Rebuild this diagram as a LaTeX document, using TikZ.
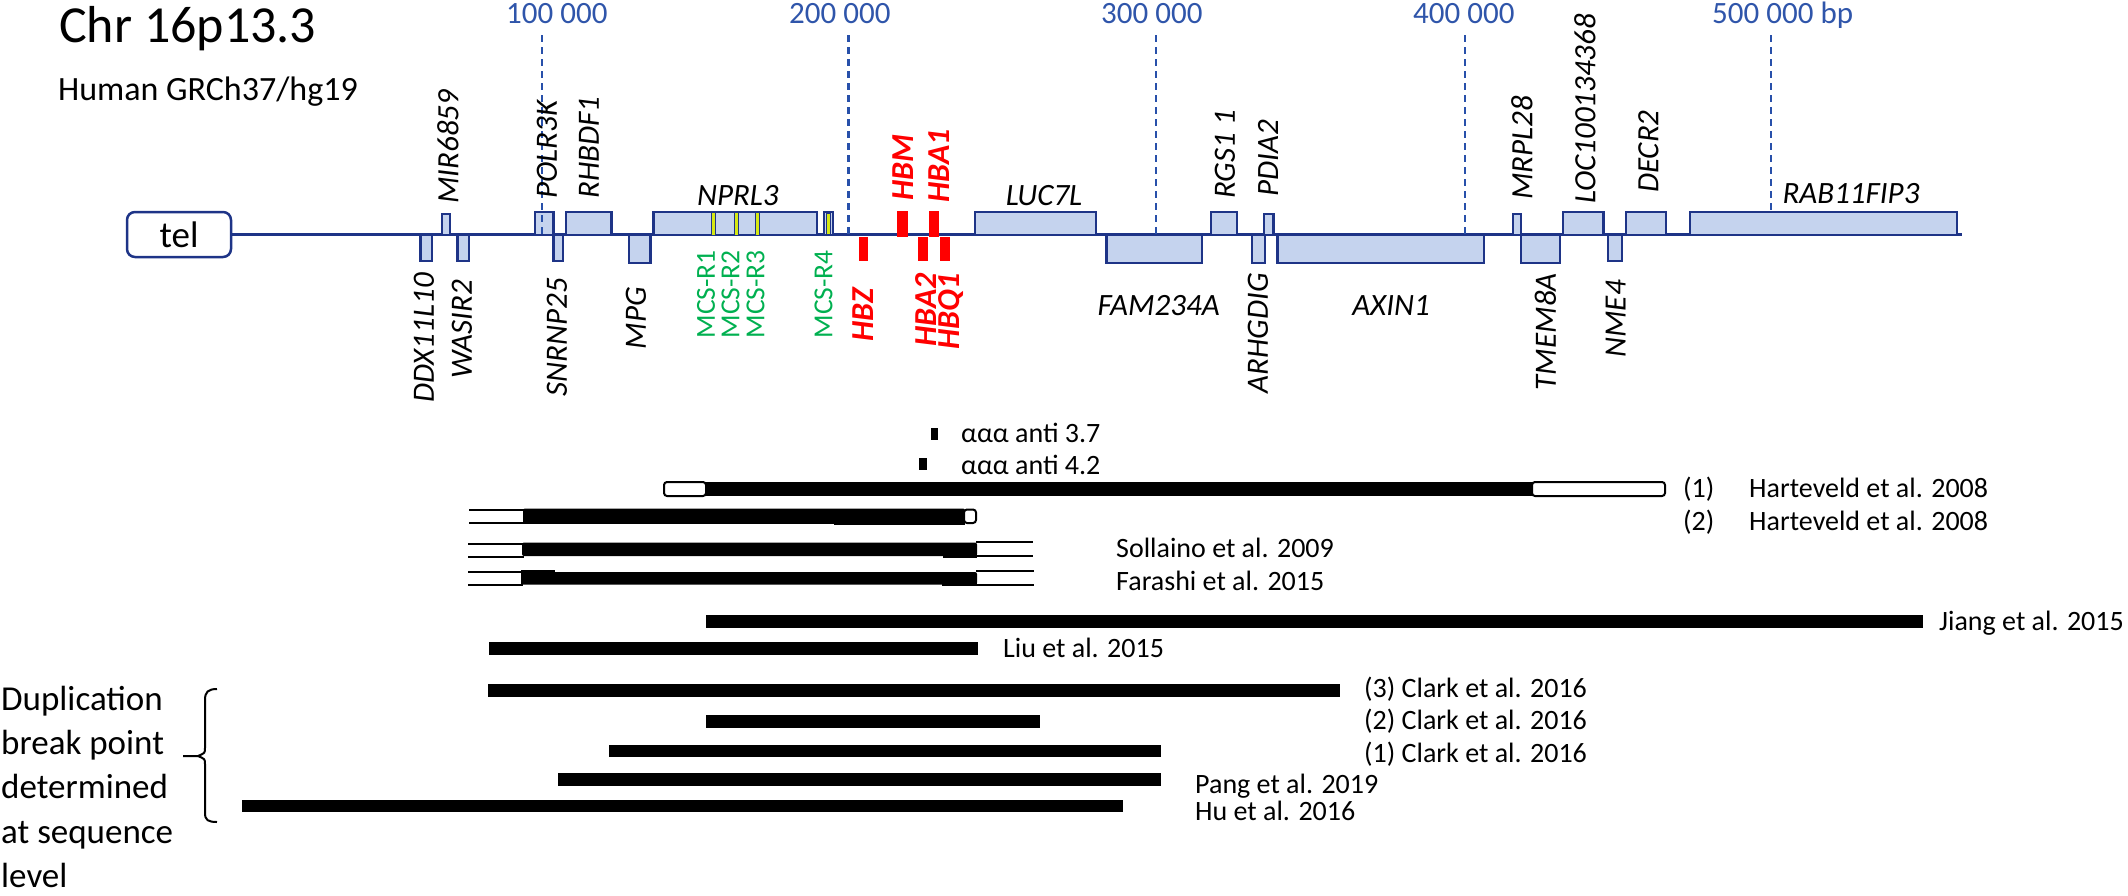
\documentclass[tikz,border=0pt]{standalone}
\usepackage{fontspec}
\setmainfont{Carlito}
\newcommand{\fsz}[1]{\fontsize{#1}{#1}\selectfont}
\definecolor{navy}{RGB}{30,52,135}
\definecolor{boxfill}{RGB}{197,211,238}
\definecolor{tickblue}{RGB}{40,80,170}
\definecolor{lblblue}{RGB}{47,85,170}
\definecolor{mcsgreen}{RGB}{0,176,80}
\definecolor{mcsyellow}{RGB}{214,232,20}
\definecolor{hbred}{RGB}{255,0,0}
\tikzset{
  genebox/.style={draw=navy, fill=boxfill, line width=2.4pt},
  yelbar/.style={draw=navy, fill=mcsyellow, line width=1pt},
  redbar/.style={fill=hbred, draw=none},
  tickline/.style={draw=tickblue, line width=2.5pt, dash pattern=on 7pt off 5pt},
  ticklbl/.style={font=\fsz{31}, text=lblblue, inner sep=0pt, anchor=base west},
  gl/.style={font=\fsz{31}\itshape, inner sep=0pt},
  ga/.style={gl, rotate=90, anchor=west},
  gb/.style={gl, rotate=90, anchor=east},
  gh/.style={gl, anchor=base},
  ra/.style={font=\fsz{32}\bfseries\itshape, text=hbred, inner sep=0pt, rotate=90, anchor=west},
  rb/.style={font=\fsz{32}\bfseries\itshape, text=hbred, inner sep=0pt, rotate=90, anchor=east},
  mcs/.style={font=\fsz{27.5}, text=mcsgreen, inner sep=0pt, rotate=90, anchor=east},
  blackbar/.style={fill=black, draw=none},
  openbox/.style={draw=black, fill=white, line width=2pt, rounded corners=3pt},
  openline/.style={draw=black, line width=2pt},
  reflbl/.style={font=\fsz{28}, inner sep=0pt, anchor=base west},
  sidelbl/.style={font=\fsz{35}, inner sep=0pt, anchor=base west}
}
\begin{document}
\begin{tikzpicture}[x=1pt, y=-1pt]
\useasboundingbox (0,0) rectangle (2128,895);
% titles
\node[font=\fsz{52}, inner sep=0pt, anchor=base west] (title) at (59,42) {Chr 16p13.3};
\node[font=\fsz{34}, inner sep=0pt, anchor=base west] (build) at (58,100) {Human GRCh37/hg19};
% tel box and main line
\node[draw=navy, line width=2.5pt, rounded corners=8pt, minimum width=104pt, minimum height=45pt, font=\fsz{37}, inner sep=0pt] (tel) at (179,234.5) {tel};
\coordinate (lineend) at (1962,234.5);
\draw[navy, line width=3pt] (tel.east) -- (lineend);
% gene boxes above
\draw[genebox] (442,214) rectangle (450,235);
\draw[genebox] (535,212) rectangle (553.5,235);
\draw[genebox] (566,212) rectangle (611.6,235);
\draw[genebox] (653.6,212) rectangle (816.7,235);
\draw[genebox] (824,212) rectangle (833,235);
\draw[genebox] (975,212) rectangle (1096,235);
\draw[genebox] (1210.7,212) rectangle (1236.7,235);
\draw[genebox] (1264,214) rectangle (1273.5,235);
\draw[genebox] (1512.8,214) rectangle (1520.7,235);
\draw[genebox] (1563,212) rectangle (1603.6,235);
\draw[genebox] (1626,212) rectangle (1666,235);
\draw[genebox] (1689.7,212) rectangle (1957,235);
% gene boxes below
\draw[genebox] (420.5,235) rectangle (432,261);
\draw[genebox] (457.6,235) rectangle (469,261);
\draw[genebox] (553.5,235) rectangle (563,261);
\draw[genebox] (629,235) rectangle (650.5,263);
\draw[genebox] (1106.6,235) rectangle (1202,263);
\draw[genebox] (1252,235) rectangle (1265,263);
\draw[genebox] (1277.5,235) rectangle (1483.8,263);
\draw[genebox] (1520.7,235) rectangle (1560,263);
\draw[genebox] (1607.8,235) rectangle (1622,261);
% MCS stripes
\draw[yelbar] (711.3,212) rectangle (715.3,235);
\draw[yelbar] (734,212) rectangle (738,235);
\draw[yelbar] (755.7,212) rectangle (759.7,235);
\draw[yelbar] (826.5,213) rectangle (830.5,234);
% globin genes
\fill[redbar] (858.7,237) rectangle (868,261);
\fill[redbar] (897,211) rectangle (907.6,237);
\fill[redbar] (929,211) rectangle (939,237);
\fill[redbar] (918,237) rectangle (927.5,261);
\fill[redbar] (939.5,237) rectangle (949.5,261);
% scale
\node[ticklbl] (t1) at (506,23) {100 000};
\node[ticklbl] (t2) at (789,23) {200 000};
\node[ticklbl] (t3) at (1101,23) {300 000};
\node[ticklbl] (t4) at (1413,23) {400 000};
\node[ticklbl] (t5) at (1712,23) {500 000 bp};
\coordinate (d1a) at (542,35); \coordinate (d1b) at (542,234);
\coordinate (d2a) at (848.5,35); \coordinate (d2b) at (848.5,234);
\coordinate (d3a) at (1156,35); \coordinate (d3b) at (1156,234);
\coordinate (d4a) at (1465,35); \coordinate (d4b) at (1465,234);
\coordinate (d5a) at (1771,35); \coordinate (d5b) at (1771,212);
\draw[tickline] (d1a) -- (d1b);
\draw[tickline] (d2a) -- (d2b);
\draw[tickline] (d3a) -- (d3b);
\draw[tickline] (d4a) -- (d4b);
\draw[tickline] (d5a) -- (d5b);
% gene labels above
\node[ga] (mir) at (448,204) {MIR6859};
\node[ga] (polr) at (547,199) {POLR3K};
\node[ga] (rhb) at (589,199) {RHBDF1};
\node[ga] (rgs) at (1225,199) {RGS1 1};
\node[ga] (pdia) at (1268,197) {PDIA2};
\node[ga] (mrpl) at (1522,200) {MRPL28};
\node[ga] (loc) at (1585,204) {LOC100134368};
\node[ga] (decr) at (1648.5,193) {DECR2};
\node[ra] (hbm) at (903.6,201) {HBM};
\node[ra] (hba1) at (939,203) {HBA1};
% horizontal gene labels
\node[gh] (nprl) at (737.8,205) {NPRL3};
\node[gh] (luc) at (1044,205) {LUC7L};
\node[gh] (fam) at (1158.6,315) {FAM234A};
\node[gh] (axin) at (1391,315) {AXIN1};
\node[gh] (rab) at (1851,203) {RAB11FIP3};
% gene labels below
\node[gb] (ddx) at (424,273) {DDX11L10};
\node[gb] (was) at (462,280) {WASIR2};
\node[gb] (snr) at (557,278) {SNRNP25};
\node[gb] (mpg) at (636,287) {MPG};
\node[gb] (arh) at (1258,273) {ARHGDIG};
\node[gb] (tmem) at (1545.5,273) {TMEM8A};
\node[gb] (nme) at (1615.7,280) {NME4};
\node[rb] (hbz) at (862.8,288) {HBZ};
\node[rb] (hba2) at (926.5,273) {HBA2};
\node[rb] (hbq) at (951,273) {HBQ1};
\node[mcs] (r1) at (706,250) {MCS-R1};
\node[mcs] (r2) at (730.5,250) {MCS-R2};
\node[mcs] (r3) at (755.5,250) {MCS-R3};
\node[mcs] (r4) at (823.5,250) {MCS-R4};
% anti triplications
\fill[blackbar] (930.6,428) rectangle (938,440);
\fill[blackbar] (919,458) rectangle (926.5,470);
\node[reflbl] (a37) at (961,442) {ααα anti 3.7};
\node[reflbl] (a42) at (961,474) {ααα anti 4.2};
% Harteveld 1
\draw[openbox] (664,482) rectangle (706,496);
\fill[blackbar] (705,482) rectangle (1533,496);
\draw[openbox] (1532,482) rectangle (1665,496);
\node[reflbl] (h1n) at (1683,497) {(1)};
\node[reflbl] (h1) at (1749,497) {Harteveld et al. 2008};
% Harteveld 2
\draw[openline] (469,509.5) -- (526,509.5);
\draw[openline] (469,523) -- (526,523);
\fill[blackbar, rounded corners=2pt] (523,508.5) rectangle (965,523.8);
\fill[blackbar] (834,516) rectangle (965,525);
\draw[openbox] (964,509.5) rectangle (976,523);
\node[reflbl] (h2n) at (1683,530) {(2)};
\node[reflbl] (h2) at (1749,530) {Harteveld et al. 2008};
% Sollaino
\draw[openline] (468,543.5) -- (524,543.5);
\draw[openline] (468,557) -- (524,557);
\fill[blackbar, rounded corners=2pt] (522,542.5) rectangle (977,556);
\fill[blackbar] (943,549) rectangle (977,558);
\draw[openline] (976,542) -- (1033,542);
\draw[openline] (976,556) -- (1033,556);
\node[reflbl] (sol) at (1116,557) {Sollaino et al. 2009};
% Farashi
\draw[openline] (468,571.5) -- (523,571.5);
\draw[openline] (468,584.5) -- (523,584.5);
\fill[blackbar, rounded corners=2pt] (521,572) rectangle (977,584.5);
\fill[blackbar] (521,570) rectangle (555,584);
\fill[blackbar] (942,577) rectangle (977,586);
\draw[openline] (976,570.5) -- (1034,570.5);
\draw[openline] (976,584.5) -- (1034,584.5);
\node[reflbl] (far) at (1116,590) {Farashi et al. 2015};
% other references
\fill[blackbar] (706,615) rectangle (1923,628);
\node[reflbl] (jiang) at (1939,630) {Jiang et al. 2015};
\fill[blackbar] (489,642) rectangle (978,655);
\node[reflbl] (liu) at (1003,657) {Liu et al. 2015};
\fill[blackbar] (487.5,684) rectangle (1340,697);
\node[reflbl] (c3) at (1364,697) {(3) Clark et al. 2016};
\fill[blackbar] (706,715) rectangle (1040,728);
\node[reflbl] (c2) at (1364,729) {(2) Clark et al. 2016};
\fill[blackbar] (609,744.5) rectangle (1160.6,757);
\node[reflbl] (c1) at (1364,762) {(1) Clark et al. 2016};
\fill[blackbar] (558,773) rectangle (1160.6,786);
\node[reflbl] (pang) at (1195,793) {Pang et al. 2019};
\fill[blackbar] (242,799.5) rectangle (1123,812);
\node[reflbl] (hu) at (1195,820) {Hu et al. 2016};
% bracket
\draw[black, line width=2pt] (217,689) .. controls (208,689) and (205,692) .. (205,700) -- (205,748)
  .. controls (205,753) .. (198,756) -- (183,756);
\draw[black, line width=2pt] (198,756) .. controls (205,759) .. (205,764) -- (205,813)
  .. controls (205,820) and (208,822) .. (217,822);
% side text
\node[sidelbl] (s1) at (1,710) {Duplication};
\node[sidelbl] (s2) at (1,754) {break point};
\node[sidelbl] (s3) at (1,798) {determined};
\node[sidelbl] (s4) at (1,843) {at sequence};
\node[sidelbl] (s5) at (1,887) {level};
\end{tikzpicture}
\end{document}
